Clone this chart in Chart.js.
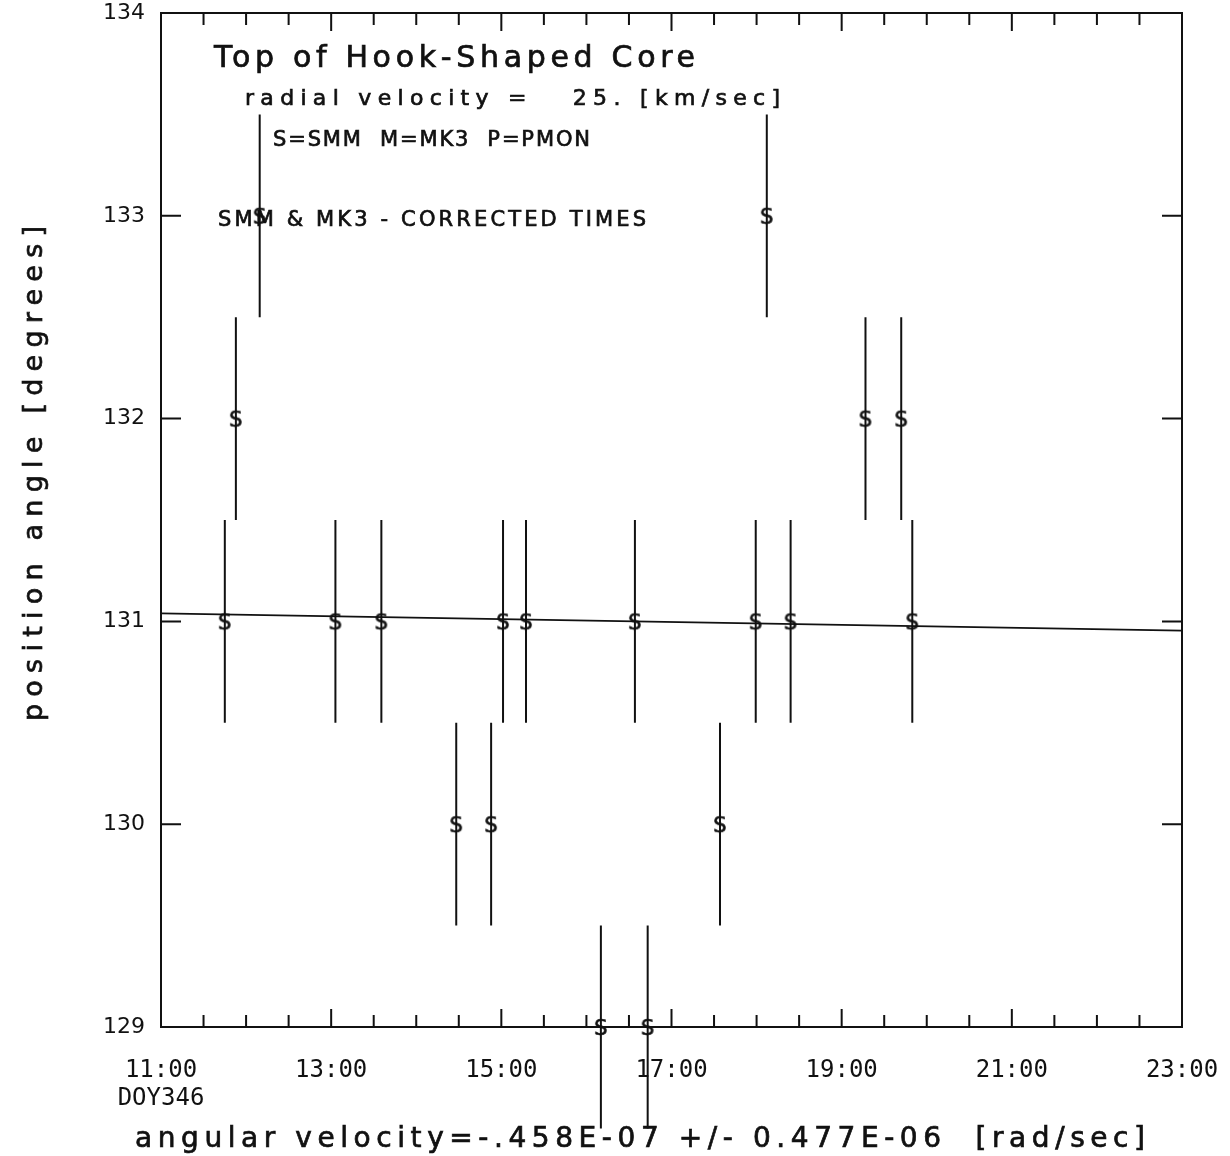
<!DOCTYPE html>
<html>
<head>
<meta charset="utf-8">
<title>Top of Hook-Shaped Core</title>
<script src="https://cdn.jsdelivr.net/npm/chart.js@4.4.1/dist/chart.umd.min.js"></script>
<style>
    html, body { margin: 0; padding: 0; background: #fff; }
    #wrap { width: 1230px; height: 1156px; }
</style>
</head>
<body>
<div id="wrap"><canvas id="paChart"></canvas></div>
<script>
// SMM observation times (hours, DOY 346) and position angles (degrees)
const obsTimes   = [11.75, 11.88, 12.16, 13.05, 13.59, 14.47, 14.88, 15.02, 15.29, 16.17,
                    16.57, 16.72, 17.57, 17.99, 18.12, 18.40, 19.28, 19.70, 19.83];
const posAngles  = [131, 132, 133, 131, 131, 130, 130, 131, 131, 129,
                    131, 129, 130, 131, 133, 131, 132, 132, 131];
const angleErrors = [0.5, 0.5, 0.5, 0.5, 0.5, 0.5, 0.5, 0.5, 0.5, 0.5,
                     0.5, 0.5, 0.5, 0.5, 0.5, 0.5, 0.5, 0.5, 0.5];

// least squares fit line
const fitTimes  = [11, 23];
const fitAngles = [131.04, 130.955];

// axis labels
const xLabelHours = [11, 13, 15, 17, 19, 21, 23];
const xTickLabels = ['11:00', '13:00', '15:00', '17:00', '19:00', '21:00', '23:00'];
const dayLabel = 'DOY346';

const MONO = '"DejaVu Sans Mono", monospace';
const SANS = '"DejaVu Sans", sans-serif';
const INK = '#111';

// "S" marker used for SMM points
function makeGlyph(ch) {
    const c = document.createElement('canvas');
    c.width = 18;
    c.height = 24;
    const g = c.getContext('2d');
    g.fillStyle = INK;
    g.strokeStyle = INK;
    g.lineWidth = 0.6;
    g.font = '21px ' + SANS;
    g.textAlign = 'center';
    g.textBaseline = 'alphabetic';
    g.fillText(ch, 9, 19.5);
    g.strokeText(ch, 9, 19.5);
    return c;
}

// spread a string over a given width (plotter style lettering)
function fitText(ctx, text, x, y, width, size) {
    ctx.font = size + 'px ' + SANS;
    ctx.letterSpacing = '0px';
    const natural = ctx.measureText(text).width;
    const ls = (width - natural) / Math.max(1, text.length - 1);
    ctx.letterSpacing = ls + 'px';
    ctx.textAlign = 'left';
    ctx.textBaseline = 'alphabetic';
    ctx.lineWidth = 0.7;
    ctx.fillText(text, x, y);
    ctx.strokeText(text, x, y);
    ctx.letterSpacing = '0px';
}

// error bars as separate vertical segments
const errorSegments = [];
obsTimes.forEach((t, i) => {
    errorSegments.push({ x: t, y: posAngles[i] - angleErrors[i] });
    errorSegments.push({ x: t, y: posAngles[i] + angleErrors[i] });
    errorSegments.push({ x: t, y: null });
});

function noScalePadding(scale) {
    scale.paddingLeft = 0;
    scale.paddingRight = 0;
    scale.paddingTop = 0;
    scale.paddingBottom = 0;
}

const framePlugin = {
    id: 'frame',
    afterDatasetsDraw(chart) {
        const { ctx, chartArea: a, scales } = chart;
        ctx.save();
        ctx.strokeStyle = INK;
        ctx.lineWidth = 2;
        ctx.strokeRect(a.left, a.top, a.right - a.left, a.bottom - a.top);

        ctx.beginPath();
        scales.x.ticks.forEach(tk => {
            const px = scales.x.getPixelForValue(tk.value);
            const major = Number.isInteger(tk.value) && tk.value % 2 === 1;
            const len = major ? 18 : 12;
            ctx.moveTo(px, a.bottom);
            ctx.lineTo(px, a.bottom - len);
            ctx.moveTo(px, a.top);
            ctx.lineTo(px, a.top + len);
        });
        scales.y.ticks.forEach(tk => {
            const py = scales.y.getPixelForValue(tk.value);
            ctx.moveTo(a.left, py);
            ctx.lineTo(a.left + 20, py);
            ctx.moveTo(a.right, py);
            ctx.lineTo(a.right - 20, py);
        });
        ctx.stroke();
        ctx.restore();
    },
    afterDraw(chart) {
        const { ctx } = chart;
        ctx.save();
        ctx.fillStyle = INK;
        ctx.strokeStyle = INK;
        fitText(ctx, 'Top of Hook-Shaped Core', 214, 67, 481, 30);
        fitText(ctx, 'radial velocity =   25. [km/sec]', 245, 105, 535, 22);
        fitText(ctx, 'S=SMM  M=MK3  P=PMON', 273, 146, 317, 21);
        fitText(ctx, 'SMM & MK3 - CORRECTED TIMES', 218, 226, 428, 21);
        fitText(ctx, 'angular velocity=-.458E-07 +/- 0.477E-06  [rad/sec]', 135, 1147, 1010, 28);

        // y axis title, reading upward
        ctx.translate(42, 721);
        ctx.rotate(-Math.PI / 2);
        fitText(ctx, 'position angle [degrees]', 0, 0, 495, 27);
        ctx.restore();
    }
};

const ctx = document.getElementById('paChart');
new Chart(ctx, {
    type: 'scatter',
    data: {
        datasets: [
            {
                label: 'SMM',
                data: obsTimes.map((t, i) => ({ x: t, y: posAngles[i] })),
                pointStyle: makeGlyph('S'),
                clip: false
            },
            {
                label: 'error',
                data: errorSegments,
                showLine: true,
                spanGaps: false,
                borderColor: INK,
                borderWidth: 2,
                pointRadius: 0,
                clip: false
            },
            {
                label: 'fit',
                data: fitTimes.map((t, i) => ({ x: t, y: fitAngles[i] })),
                showLine: true,
                borderColor: INK,
                borderWidth: 1.7,
                pointRadius: 0
            }
        ]
    },
    options: {
        responsive: true,
        maintainAspectRatio: false,
        devicePixelRatio: 1,
        animation: false,
        events: [],
        layout: { padding: { top: 13, right: 48, left: 0, bottom: 0 } },
        plugins: {
            legend: { display: false },
            tooltip: { enabled: false }
        },
        scales: {
            x: {
                type: 'linear',
                min: 11,
                max: 23,
                afterFit(scale) { scale.height = 129; noScalePadding(scale); },
                grid: { display: false, drawTicks: false },
                border: { display: false },
                ticks: {
                    stepSize: 0.5,
                    autoSkip: false,
                    maxRotation: 0,
                    padding: 30,
                    color: INK,
                    font: { family: MONO, size: 24, lineHeight: 1.15 },
                    callback(value) {
                        const k = xLabelHours.indexOf(value);
                        if (k < 0) return '';
                        return k === 0 ? [xTickLabels[k], dayLabel] : xTickLabels[k];
                    }
                }
            },
            y: {
                min: 129,
                max: 134,
                afterFit(scale) { scale.width = 161; noScalePadding(scale); },
                grid: { display: false, drawTicks: false },
                border: { display: false },
                ticks: {
                    stepSize: 1,
                    padding: 16,
                    color: INK,
                    font: { family: SANS, size: 22 }
                }
            }
        }
    },
    plugins: [framePlugin]
});
</script>
</body>
</html>
